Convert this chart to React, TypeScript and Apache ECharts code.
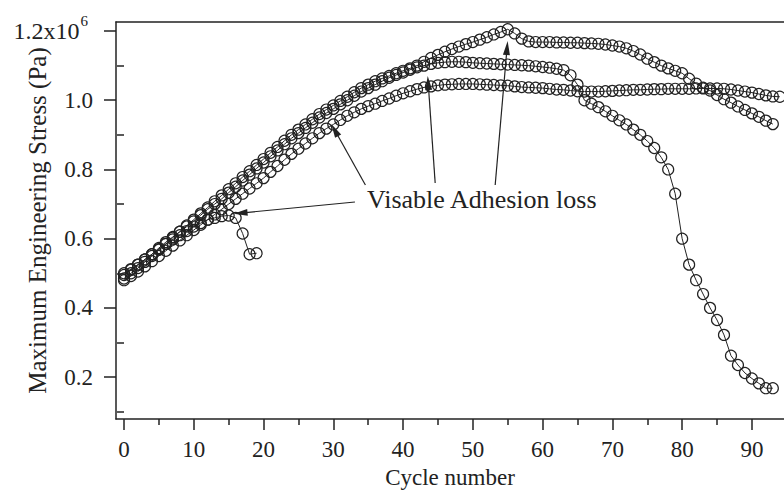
import { useEffect, useRef } from "react";
import * as echarts from "echarts";

const FONT = '"Liberation Serif", "Times New Roman", serif';
const INK = "#222";

// Cycle number = array index (0, 1, 2, ...)
const sampleA = [
  0.5, 0.512, 0.525, 0.54, 0.555, 0.57, 0.585, 0.598, 0.61, 0.622, 0.635, 0.645, 0.655, 0.66,
  0.665, 0.667, 0.66, 0.615, 0.555, 0.558,
];

const sampleB = [
  0.485, 0.5, 0.515, 0.533, 0.55, 0.568, 0.585, 0.603, 0.62, 0.638, 0.655, 0.673, 0.69, 0.708,
  0.725, 0.743, 0.76, 0.778, 0.795, 0.813, 0.83, 0.848, 0.865, 0.883, 0.9, 0.915, 0.93, 0.945,
  0.96, 0.973, 0.985, 0.998, 1.01, 1.023, 1.035, 1.045, 1.055, 1.063, 1.07, 1.078, 1.085, 1.092,
  1.1, 1.111, 1.122, 1.131, 1.14, 1.148, 1.155, 1.162, 1.168, 1.175, 1.182, 1.19, 1.197, 1.205,
  1.193, 1.178, 1.17, 1.168, 1.168, 1.168, 1.167, 1.167, 1.166, 1.166, 1.165, 1.164, 1.163,
  1.161, 1.158, 1.155, 1.15, 1.142, 1.132, 1.12, 1.11, 1.1, 1.092, 1.085, 1.078, 1.062, 1.048,
  1.036, 1.028, 1.015, 1.003, 0.993, 0.982, 0.972, 0.962, 0.952, 0.941, 0.931,
];

const sampleC = [
  0.495, 0.51, 0.525, 0.54, 0.555, 0.573, 0.59, 0.605, 0.62, 0.635, 0.65, 0.668, 0.685, 0.7,
  0.715, 0.733, 0.75, 0.768, 0.785, 0.803, 0.82, 0.838, 0.855, 0.873, 0.89, 0.905, 0.92, 0.935,
  0.95, 0.963, 0.975, 0.988, 1.0, 1.013, 1.025, 1.035, 1.045, 1.055, 1.065, 1.073, 1.08, 1.088,
  1.095, 1.1, 1.105, 1.108, 1.11, 1.111, 1.111, 1.11, 1.108, 1.107, 1.106, 1.105, 1.104, 1.103,
  1.102, 1.101, 1.1, 1.098, 1.096, 1.094, 1.091, 1.087, 1.072, 1.045, 1.0, 0.99, 0.98, 0.968,
  0.955, 0.942, 0.93, 0.915, 0.9, 0.882, 0.862, 0.835, 0.8, 0.73, 0.6, 0.525, 0.48, 0.44, 0.4,
  0.365, 0.322, 0.262, 0.235, 0.212, 0.196, 0.182, 0.168, 0.168,
];

const sampleD = [
  0.48, 0.492, 0.505, 0.52, 0.535, 0.55, 0.565, 0.58, 0.595, 0.61, 0.625, 0.64, 0.655, 0.67,
  0.685, 0.7, 0.715, 0.73, 0.745, 0.76, 0.775, 0.793, 0.81, 0.828, 0.845, 0.86, 0.875, 0.89,
  0.905, 0.918, 0.93, 0.943, 0.955, 0.965, 0.975, 0.983, 0.99, 0.998, 1.005, 1.013, 1.02, 1.026,
  1.032, 1.037, 1.04, 1.043, 1.045, 1.046, 1.047, 1.047, 1.047, 1.046, 1.045, 1.044, 1.043,
  1.042, 1.04, 1.038, 1.037, 1.036, 1.035, 1.033, 1.031, 1.03, 1.028, 1.026, 1.025, 1.025,
  1.025, 1.026, 1.027, 1.028, 1.029, 1.03, 1.03, 1.031, 1.032, 1.032, 1.033, 1.033, 1.033,
  1.033, 1.034, 1.034, 1.034, 1.034, 1.033, 1.031, 1.028, 1.025, 1.022, 1.018, 1.014, 1.011,
  1.01,
];

const xMajorTicks = [0, 10, 20, 30, 40, 50, 60, 70, 80, 90];
const xMinorTicks = [5, 15, 25, 35, 45, 55, 65, 75, 85];
const yMajorTicks = [0.2, 0.4, 0.6, 0.8, 1.0, 1.2];
const yMinorTicks = [0.1, 0.3, 0.5, 0.7, 0.9, 1.1];

// annotation arrows: [start, tip] in data coordinates
const arrowLines = [
  [[33.1, 0.706], [16.7, 0.674]],
  [[34.6, 0.755], [30.2, 0.914]],
  [[44.6, 0.761], [43.6, 1.05]],
  [[53.2, 0.755], [54.9, 1.151]],
];

const annotationText = "Visable Adhesion loss";

const toPairs = (arr: number[]) => arr.map((v, i) => [i, v]);

function makeSeries(name: string, data: number[], extra: any = {}) {
  return {
    name,
    type: "line",
    data: toPairs(data),
    symbol: "circle",
    symbolSize: 11,
    showSymbol: true,
    lineStyle: { color: INK, width: 1 },
    itemStyle: { color: "rgba(0,0,0,0)", borderColor: INK, borderWidth: 1.2 },
    emphasis: { disabled: true },
    ...extra,
  };
}

export default function App() {
  const ref = useRef<HTMLDivElement>(null);

  useEffect(() => {
    if (!ref.current) return;
    const chart = echarts.init(ref.current, null, { renderer: "svg" });

    const textBase = { fontFamily: FONT, color: INK };

    const option: any = {
      animation: false,
      backgroundColor: "#fff",
      grid: { left: 116, right: 0, top: 22, bottom: 72, outerBoundsMode: "none" },
      xAxis: [
        {
          type: "value",
          min: -1.15,
          max: 94.6,
          position: "bottom",
          name: "Cycle number",
          nameLocation: "middle",
          nameGap: 47,
          nameMoveOverlap: false,
          nameTextStyle: { ...textBase, fontSize: 23 },
          axisLine: { show: true, onZero: false, lineStyle: { color: INK, width: 1.5 } },
          axisTick: { show: true, customValues: xMajorTicks, length: 11, lineStyle: { color: INK, width: 1.5 } },
          axisLabel: { customValues: xMajorTicks, ...textBase, fontSize: 23, margin: 19 },
          splitLine: { show: false },
        },
        {
          type: "value",
          min: -1.15,
          max: 94.6,
          position: "bottom",
          axisLine: { show: false },
          axisTick: { show: true, customValues: xMinorTicks, length: 6, lineStyle: { color: INK, width: 1.5 } },
          axisLabel: { show: false },
          splitLine: { show: false },
        },
        {
          type: "value",
          min: -1.15,
          max: 94.6,
          position: "top",
          axisLine: { show: true, onZero: false, lineStyle: { color: INK, width: 1.5 } },
          axisTick: { show: false },
          axisLabel: { show: false },
          splitLine: { show: false },
        },
      ],
      yAxis: [
        {
          type: "value",
          min: 0.079,
          max: 1.226,
          position: "left",
          name: "Maximum Engineering Stress (Pa)",
          nameLocation: "middle",
          nameGap: 66,
          nameRotate: 90,
          nameMoveOverlap: false,
          nameTextStyle: { ...textBase, fontSize: 25 },
          axisLine: { show: true, onZero: false, lineStyle: { color: INK, width: 1.5 } },
          axisTick: { show: true, customValues: yMajorTicks, length: 12, lineStyle: { color: INK, width: 1.5 } },
          axisLabel: {
            customValues: yMajorTicks,
            ...textBase,
            fontSize: 23,
            margin: 23,
            formatter: (v: number) =>
              Math.abs(v - 1.2) < 1e-9 ? "{a|1.2x10}{s|6}" : v.toFixed(1),
            rich: {
              a: { fontFamily: FONT, color: INK, fontSize: 24, lineHeight: 34 },
              s: { fontFamily: FONT, color: INK, fontSize: 15, lineHeight: 15, verticalAlign: "top", padding: [0, 5, 0, 1] },
            },
          },
          splitLine: { show: false },
        },
        {
          type: "value",
          min: 0.079,
          max: 1.226,
          position: "left",
          axisLine: { show: false },
          axisTick: { show: true, customValues: yMinorTicks, length: 7, lineStyle: { color: INK, width: 1.5 } },
          axisLabel: { show: false },
          splitLine: { show: false },
        },
      ],
      series: [
        makeSeries("Sample D", sampleD),
        makeSeries("Sample C", sampleC),
        makeSeries("Sample B", sampleB),
        makeSeries("Sample A", sampleA, {
          markLine: {
            silent: true,
            symbol: ["none", "triangle"],
            symbolSize: [7, 14],
            label: { show: false },
            lineStyle: { color: INK, width: 1.2, type: "solid" },
            data: arrowLines.map(([s, t]) => [{ coord: s }, { coord: t }]),
          },
        }),
      ],
      graphic: [
        {
          type: "text",
          left: 367,
          top: 186,
          style: { text: annotationText, font: `26px ${FONT}`, fill: INK },
          silent: true,
        },
      ],
    };

    chart.setOption(option);
    return () => chart.dispose();
  }, []);

  return (
    <div
      ref={ref}
      style={{ position: "fixed", left: 0, top: 0, width: 784, height: 491, background: "#fff" }}
    />
  );
}
